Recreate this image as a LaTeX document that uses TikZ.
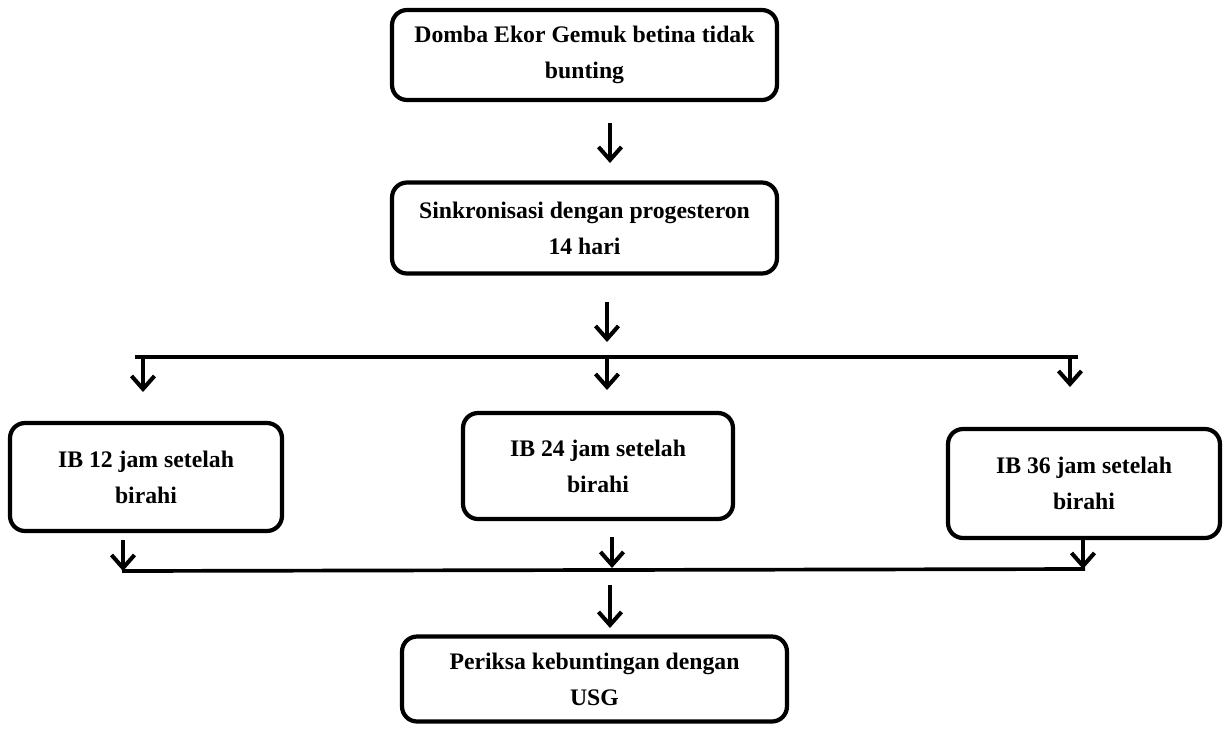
\documentclass[tikz,border=0pt]{standalone}
\usepackage{fontspec}
\setmainfont{Liberation Serif}
\usetikzlibrary{arrows.meta}

\begin{document}
\begin{tikzpicture}[x = 0.02cm, y = -0.02cm,
                        box/.style = {draw, rounded corners = 0.3cm, line width = 2.4pt, align = center, inner sep = 0pt,
                                      font = \bfseries\fontsize{13.5}{20.5}\selectfont},
                        arr/.style = {line width = 2.2pt, -{Straight Barb[length = 0.26cm, width = 0.46cm, line width = 2.3pt]}},
                        bar/.style = {line width = 2.1pt}]
      \useasboundingbox (0, 0) rectangle (1225, 728);
      \node [box, minimum width = 7.7cm, minimum height = 1.8cm] (hewan) at (584.5, 55) {Domba Ekor Gemuk betina tidak\\bunting};
      \node [box, minimum width = 7.7cm, minimum height = 1.82cm] (sinkron) at (584.5, 228) {Sinkronisasi dengan progesteron\\14 hari};
      \node [box, minimum width = 5.44cm, minimum height = 2.16cm] (ib12) at (146, 477) {IB 12 jam setelah\\birahi};
      \node [box, minimum width = 5.4cm, minimum height = 2.12cm] (ib24) at (598, 466) {IB 24 jam setelah\\birahi};
      \node [box, minimum width = 5.44cm, minimum height = 2.18cm] (ib36) at (1084, 483.5) {IB 36 jam setelah\\birahi};
      \node [box, minimum width = 7.7cm, minimum height = 1.7cm] (usg) at (594.5, 679) {Periksa kebuntingan dengan\\USG};
      % bars
      \coordinate (barA1) at (135, 357); \coordinate (barA2) at (1078, 357);
      \coordinate (barB1) at (122, 571); \coordinate (barB2) at (1085, 569);
      \draw [bar] (barA1) -- (barA2);
      \draw [bar] (barB1) -- (barB2);
      % arrows
      \coordinate (p1) at (610, 123); \coordinate (q1) at (610, 163);
      \coordinate (p2) at (607, 302); \coordinate (q2) at (607, 342);
      \coordinate (p3) at (143, 357); \coordinate (q3) at (143, 392);
      \coordinate (p4) at (607, 357); \coordinate (q4) at (607, 390);
      \coordinate (p5) at (1070, 357); \coordinate (q5) at (1070, 387);
      \coordinate (p6) at (123, 540); \coordinate (q6) at (123, 571);
      \coordinate (p7) at (612, 537); \coordinate (q7) at (612, 568);
      \coordinate (p8) at (1083, 538); \coordinate (q8) at (1083, 569);
      \coordinate (p9) at (610, 585); \coordinate (q9) at (610, 628);
      \draw [arr] (p1) -- (q1); \draw [arr] (p2) -- (q2);
      \draw [arr] (p3) -- (q3); \draw [arr] (p4) -- (q4); \draw [arr] (p5) -- (q5);
      \draw [arr] (p6) -- (q6); \draw [arr] (p7) -- (q7); \draw [arr] (p8) -- (q8);
      \draw [arr] (p9) -- (q9);
    \end{tikzpicture}
\end{document}
